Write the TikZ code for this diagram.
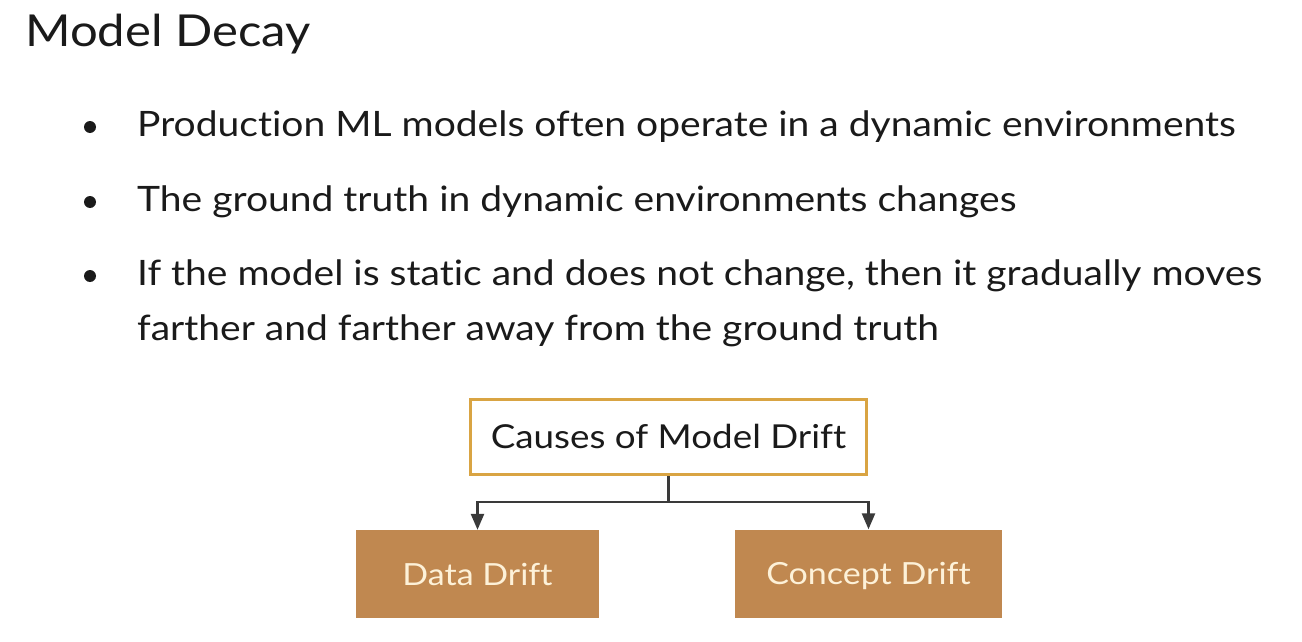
\documentclass[tikz,border=0pt]{standalone}
\usepackage{fontspec}
\setmainfont{Lato}[FakeStretch=1.115,Ligatures=NoCommon]
\usetikzlibrary{arrows.meta}
\definecolor{txt}{HTML}{1A1A1A}
\definecolor{goldb}{HTML}{D9A443}
\definecolor{brownf}{HTML}{C08850}
\definecolor{cream}{HTML}{FDF1D8}
\definecolor{arrc}{HTML}{3A3A3A}
\begin{document}
\begin{tikzpicture}[x=1pt,y=-1pt,
  bodytext/.style={anchor=base west,inner sep=0pt,text=txt,font=\fontsize{35}{42}\selectfont},
  bul/.style={circle,fill=txt,inner sep=0pt,minimum size=12pt},
  headbox/.style={draw=goldb,line width=3.5pt,fill=white,minimum width=396pt,minimum height=75pt,inner sep=0pt,text=txt,font=\fontsize{33}{39}\selectfont,text height=23.5pt,text depth=0pt},
  causebox/.style={fill=brownf,minimum height=88pt,inner sep=0pt,text=cream,font=\fontsize{30.5}{37}\selectfont,text height=22.5pt,text depth=0pt},
  arr/.style={draw=arrc,line width=2.5pt,-{Triangle[width=13pt,length=16pt]}}
]
\useasboundingbox (0,0) rectangle (1302,642);
\fill[white] (0,0) rectangle (1302,642);
\node[anchor=base west,inner sep=0pt,text=txt,font=\fontsize{44}{52}\selectfont] (title) at (25,47) {Model Decay};
\node[bul] (b1) at (90,127) {};
\node[bul] (b2) at (90,202) {};
\node[bul] (b3) at (90,276) {};
\node[bodytext] (l1) at (137,136) {Production ML models often operate in a dynamic environments};
\node[bodytext] (l2) at (137,211) {The ground truth in dynamic environments changes};
\node[bodytext] (l3) at (137,285) {If the model is static and does not change, then it gradually moves};
\node[bodytext] (l4) at (137,340) {farther and farther away from the ground truth};
\node[headbox] (causes) at (668.5,437) {Causes of Model Drift};
\node[causebox,minimum width=243pt] (data) at (477.5,574) {Data Drift};
\node[causebox,minimum width=267pt] (concept) at (868.5,573.5) {Concept Drift};
\coordinate (split) at (668.5,502);
\draw[draw=arrc,line width=2.5pt] (causes.south) -- (split);
\draw[arr] (split) -| (data.north);
\draw[arr] (split) -| (concept.north);
\end{tikzpicture}
\end{document}
